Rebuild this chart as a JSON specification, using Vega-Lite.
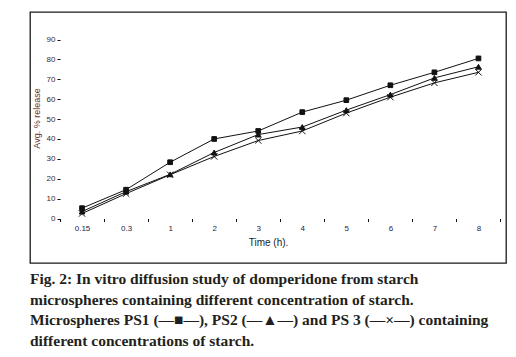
{
  "$schema": "https://vega.github.io/schema/vega-lite/v6.json",
  "width": 476,
  "height": 251,
  "autosize": {"type": "none"},
  "padding": {"left": 30, "top": 12, "right": 10, "bottom": 94},
  "background": "white",
  "config": {
    "view": {"stroke": "#1a1a1a", "strokeWidth": 1.3},
    "font": "Liberation Sans"
  },
  "title": {
    "text": [
      "Fig. 2: In vitro diffusion study of domperidone from starch",
      "microspheres containing different concentration of starch.",
      "Microspheres PS1 (—■—), PS2 (—▲—) and PS 3 (—×—) containing",
      "different concentrations of starch."
    ],
    "orient": "bottom",
    "anchor": "start",
    "frame": "group",
    "font": "Liberation Serif",
    "fontSize": 15.5,
    "fontWeight": "bold",
    "color": "#231f20",
    "lineHeight": 20.5,
    "baseline": "top",
    "offset": 9
  },
  "data": {
    "values": [
      {"time": "0.15", "series": "PS1", "release": 5.2},
      {"time": "0.3", "series": "PS1", "release": 14.5},
      {"time": "1", "series": "PS1", "release": 28.3},
      {"time": "2", "series": "PS1", "release": 40},
      {"time": "3", "series": "PS1", "release": 44},
      {"time": "4", "series": "PS1", "release": 53.5},
      {"time": "5", "series": "PS1", "release": 59.5},
      {"time": "6", "series": "PS1", "release": 67},
      {"time": "7", "series": "PS1", "release": 73.5},
      {"time": "8", "series": "PS1", "release": 80.5},
      {"time": "0.15", "series": "PS2", "release": 3.5},
      {"time": "0.3", "series": "PS2", "release": 13.5},
      {"time": "1", "series": "PS2", "release": 22.2},
      {"time": "2", "series": "PS2", "release": 33.2},
      {"time": "3", "series": "PS2", "release": 42.2},
      {"time": "4", "series": "PS2", "release": 46},
      {"time": "5", "series": "PS2", "release": 54.5},
      {"time": "6", "series": "PS2", "release": 62.3},
      {"time": "7", "series": "PS2", "release": 70.7},
      {"time": "8", "series": "PS2", "release": 76.3},
      {"time": "0.15", "series": "PS3", "release": 2.5},
      {"time": "0.3", "series": "PS3", "release": 12.5},
      {"time": "1", "series": "PS3", "release": 22},
      {"time": "2", "series": "PS3", "release": 31.2},
      {"time": "3", "series": "PS3", "release": 39.2},
      {"time": "4", "series": "PS3", "release": 44},
      {"time": "5", "series": "PS3", "release": 53},
      {"time": "6", "series": "PS3", "release": 61},
      {"time": "7", "series": "PS3", "release": 68.2},
      {"time": "8", "series": "PS3", "release": 73.5}
    ]
  },
  "encoding": {
    "x": {
      "field": "time",
      "type": "ordinal",
      "sort": ["0.15", "0.3", "1", "2", "3", "4", "5", "6", "7", "8"],
      "scale": {"type": "band", "paddingInner": 0, "paddingOuter": 0.403, "align": 0.845},
      "axis": {
        "offset": -44.5,
        "domain": false,
        "grid": false,
        "tickBand": "extent",
        "tickSize": 3,
        "tickColor": "#111",
        "labelAngle": 0,
        "labelFontSize": 8,
        "labelColor": "#1c1c40",
        "labelPadding": 3,
        "title": "Time (h).",
        "titleFontSize": 10,
        "titleFontWeight": "normal",
        "titleColor": "#1a1a2a",
        "titlePadding": 5
      }
    },
    "y": {
      "field": "release",
      "type": "quantitative",
      "scale": {"domain": [-22.37, 103.83], "nice": false, "zero": false},
      "axis": {
        "values": [0, 10, 20, 30, 40, 50, 60, 70, 80, 90],
        "offset": -30,
        "domain": false,
        "grid": false,
        "tickSize": 3,
        "tickColor": "#111",
        "labelFontSize": 8,
        "labelColor": "#3d1f2b",
        "labelPadding": 2,
        "title": "Avg. % release",
        "titleFontSize": 9,
        "titleFontWeight": "normal",
        "titleColor": "#6a2f2f",
        "titlePadding": 5,
        "titleY": 106
      }
    }
  },
  "layer": [
    {
      "data": {"values": [{}]},
      "mark": {"type": "rule", "color": "#111", "strokeWidth": 1},
      "encoding": {
        "x": {"datum": "0.15", "bandPosition": 0},
        "y": {"datum": 0},
        "y2": {"datum": 90}
      }
    },
    {
      "data": {"values": [{}]},
      "mark": {"type": "rule", "color": "#111", "strokeWidth": 1},
      "encoding": {
        "x": {"datum": "0.15", "bandPosition": 0},
        "x2": {"datum": "8", "bandPosition": 1},
        "y": {"datum": 0}
      }
    },
    {
      "mark": {"type": "line", "color": "#111", "strokeWidth": 1},
      "encoding": {
        "x": {"field": "time", "type": "ordinal", "bandPosition": 0.5},
        "detail": {"field": "series"}
      }
    },
    {
      "mark": {"type": "point", "filled": true, "strokeWidth": 1, "opacity": 1},
      "encoding": {
        "x": {"field": "time", "type": "ordinal", "bandPosition": 0.5},
        "shape": {
          "field": "series",
          "type": "nominal",
          "scale": {"domain": ["PS1", "PS2", "PS3"], "range": ["square", "triangle-up", "M-1,-1L1,1M-1,1L1,-1"]},
          "legend": null
        },
        "size": {
          "field": "series",
          "type": "nominal",
          "scale": {"domain": ["PS1", "PS2", "PS3"], "range": [22, 40, 30]},
          "legend": null
        },
        "fill": {
          "field": "series",
          "type": "nominal",
          "scale": {"domain": ["PS1", "PS2", "PS3"], "range": ["#111", "#111", "transparent"]},
          "legend": null
        },
        "stroke": {
          "field": "series",
          "type": "nominal",
          "scale": {"domain": ["PS1", "PS2", "PS3"], "range": ["#111", "#111", "#111"]},
          "legend": null
        }
      }
    }
  ]
}
